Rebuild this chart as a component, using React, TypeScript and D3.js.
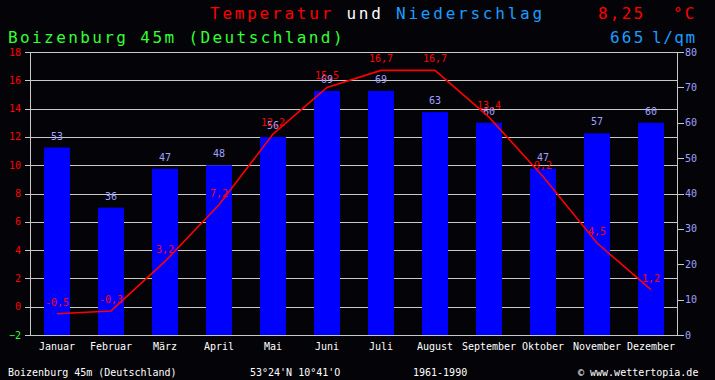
import React from "react";
import * as d3 from "d3";

const months = ["Januar","Februar","März","April","Mai","Juni","Juli","August","September","Oktober","November","Dezember"];
const precip = [53, 36, 47, 48, 56, 69, 69, 63, 60, 47, 57, 60];
const temp = [-0.5, -0.3, 3.2, 7.2, 12.2, 15.5, 16.7, 16.7, 13.4, 9.2, 4.5, 1.2];
const leftTicks = [-2, 0, 2, 4, 6, 8, 10, 12, 14, 16, 18];
const rightTicks = [0, 10, 20, 30, 40, 50, 60, 70, 80];

const W = 715, H = 380;
const L = 30, R = 678, T = 52, B = 335;
const MONO = "'DejaVu Sans Mono', 'Liberation Mono', monospace";
const RED = "#ff0000";
const BLUE = "#1a9cff";
const GREEN = "#33ff33";
const LILAC = "#a0a0ff";
const GRID = "#c8c8c8";

const fmt = (v: number) => v.toFixed(1).replace(".", ",");

export default function App() {
  const x = d3.scaleBand<string>().domain(months).range([L, R]).paddingInner(0.52).paddingOuter(0.26);
  const yT = d3.scaleLinear().domain([-2, 18]).range([B, T]);
  const yP = d3.scaleLinear().domain([0, 80]).range([B, T]);
  const cx = (m: string) => (x(m) as number) + x.bandwidth() / 2;
  const line = d3.line<number>().x((_, i) => cx(months[i])).y((d) => yT(d));
  const total = d3.sum(precip);
  const mean = d3.mean(temp) as number;

  return (
    <svg width={W} height={H} style={{ position: "absolute", left: 0, top: 0, display: "block" }}>
      <rect x={0} y={0} width={W} height={H} fill="#040408" />
      {/* header */}
      <text x={210} y={19} fontFamily={MONO} fontSize={16} letterSpacing={2.77}>
        <tspan fill={RED}>Temperatur</tspan>
        <tspan fill="#ffffff"> und </tspan>
        <tspan fill={BLUE}>Niederschlag</tspan>
      </text>
      <text x={598} y={19} fontFamily={MONO} fontSize={16} letterSpacing={2.2} fill={RED}>{mean.toFixed(2).replace(".", ",")}</text>
      <text x={673} y={19} fontFamily={MONO} fontSize={16} letterSpacing={2.2} fill={RED}>°C</text>
      <text x={8} y={43} fontFamily={MONO} fontSize={16} letterSpacing={2.4} fill={GREEN}>Boizenburg 45m (Deutschland)</text>
      <text x={610} y={43} fontFamily={MONO} fontSize={16} letterSpacing={2.2} fill={BLUE}>{total}</text>
      <text x={652} y={43} fontFamily={MONO} fontSize={16} letterSpacing={1.5} fill={BLUE}>l/qm</text>

      {/* grid */}
      {leftTicks.map((t) => (
        <line key={"g" + t} x1={L - 5} x2={R} y1={Math.round(yT(t)) + 0.5} y2={Math.round(yT(t)) + 0.5} stroke={GRID} strokeWidth={1} />
      ))}
      {rightTicks.map((t) => (
        <line key={"r" + t} x1={R} x2={R + 6} y1={Math.round(yP(t)) + 0.5} y2={Math.round(yP(t)) + 0.5} stroke={GRID} strokeWidth={1} />
      ))}
      <line x1={L + 0.5} x2={L + 0.5} y1={T} y2={B + 1} stroke={GRID} />
      <line x1={R - 0.5} x2={R - 0.5} y1={T} y2={B + 1} stroke={GRID} />

      {/* bars */}
      {precip.map((p, i) => (
        <rect key={"b" + i} x={x(months[i])} y={yP(p)} width={x.bandwidth()} height={B - yP(p)} fill="#0000ff" />
      ))}
      {precip.map((p, i) => (
        <text key={"bl" + i} x={cx(months[i])} y={yP(p) - 8} textAnchor="middle" fontFamily={MONO} fontSize={10} fill={LILAC}>{p}</text>
      ))}

      {/* temperature line */}
      <path d={line(temp) || ""} fill="none" stroke={RED} strokeWidth={1.6} />
      {temp.map((t, i) => (
        <text key={"tl" + i} x={cx(months[i])} y={yT(t) - 8} textAnchor="middle" fontFamily={MONO} fontSize={10} fill={RED}>{fmt(t)}</text>
      ))}

      {/* axis labels */}
      {leftTicks.map((t) => (
        <text key={"lt" + t} x={21} y={yT(t) + 3.5} textAnchor="end" fontFamily={MONO} fontSize={10} fill={t < 0 ? GREEN : RED}>{t < 0 ? "−" + Math.abs(t) : t}</text>
      ))}
      {rightTicks.map((t) => (
        <text key={"rt" + t} x={685} y={yP(t) + 3.5} fontFamily={MONO} fontSize={10} fill={LILAC}>{t}</text>
      ))}
      {months.map((m) => (
        <text key={"m" + m} x={cx(m)} y={350} textAnchor="middle" fontFamily={MONO} fontSize={10} fill="#ffffff">{m}</text>
      ))}

      {/* footer */}
      <text x={8} y={376} fontFamily={MONO} fontSize={10} fill="#ffffff">Boizenburg 45m (Deutschland)</text>
      <text x={250} y={376} fontFamily={MONO} fontSize={10} fill="#ffffff">53°24'N 10°41'O</text>
      <text x={413} y={376} fontFamily={MONO} fontSize={10} fill="#ffffff">1961-1990</text>
      <text x={578} y={376} fontFamily={MONO} fontSize={10} fill="#ffffff">© www.wettertopia.de</text>
    </svg>
  );
}
